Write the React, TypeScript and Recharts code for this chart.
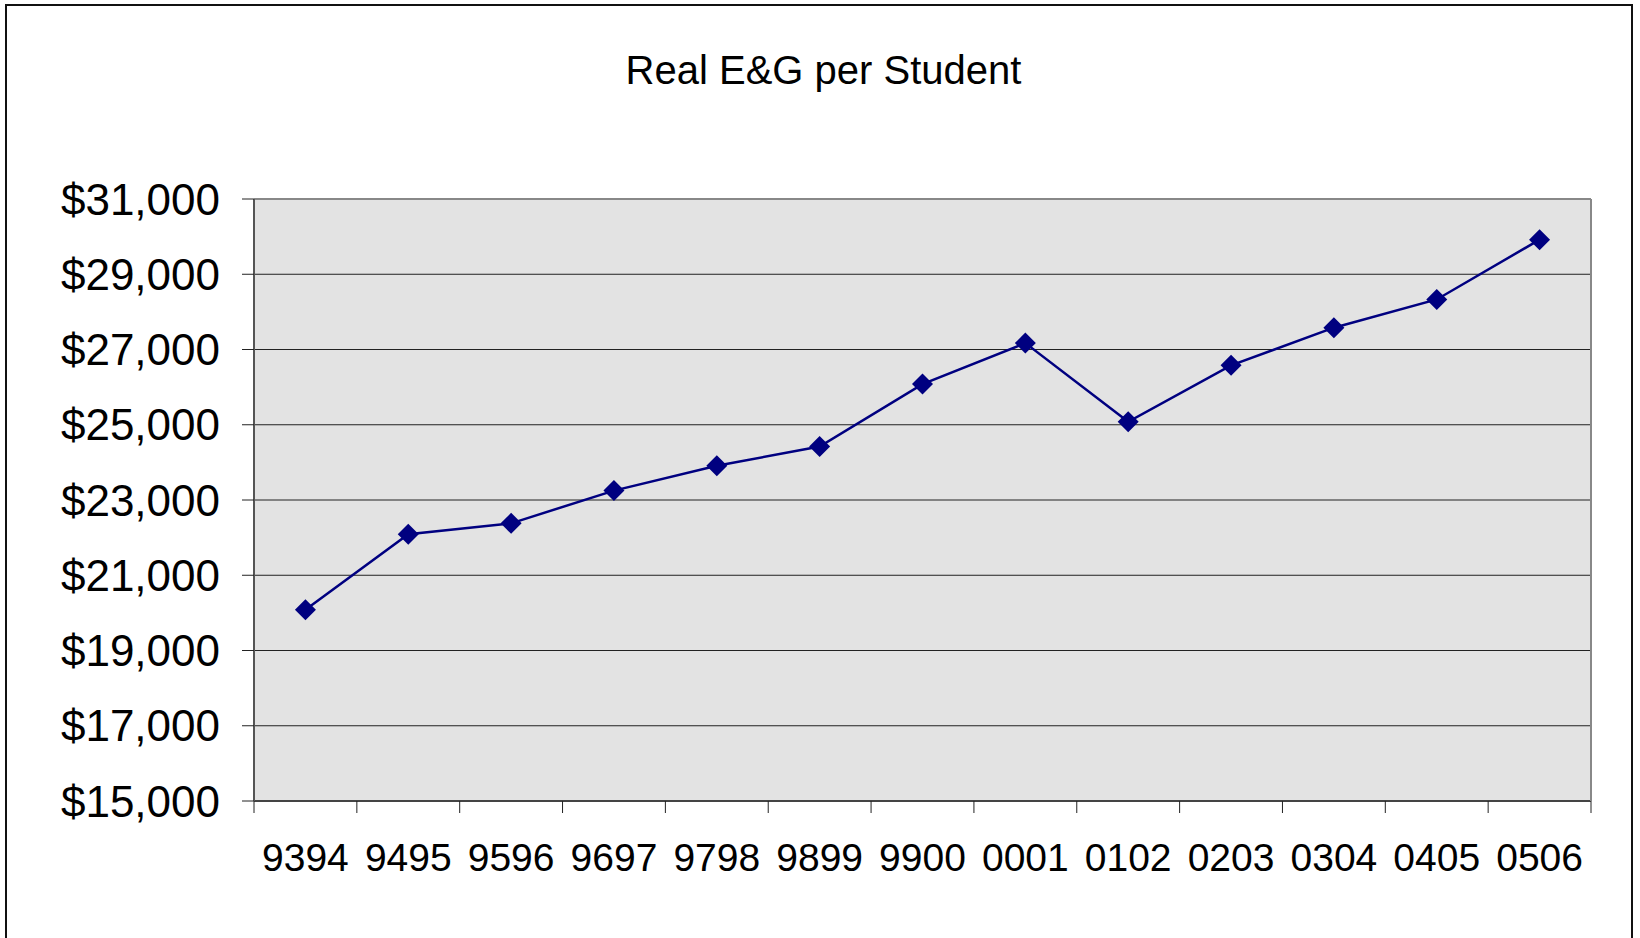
import React from 'react';
import { LineChart, Line, XAxis, YAxis, CartesianGrid } from 'recharts';

// Fiscal-year labels (e.g. 9394 = FY 1993-94)
const years = ['9394', '9495', '9596', '9697', '9798', '9899', '9900', '0001', '0102', '0203', '0304', '0405', '0506'];
// Real E&G spending per student, in dollars
const perStudent = [20080, 22090, 22380, 23250, 23910, 24420, 26080, 27170, 25080, 26580, 27580, 28330, 29920];
const yTicks = [15000, 17000, 19000, 21000, 23000, 25000, 27000, 29000, 31000];

const data = years.map((year, i) => ({ pos: i + 0.5, year, value: perStudent[i] }));
const boundaryTicks = years.map((_, i) => i).concat([years.length]);
const centerTicks = years.map((_, i) => i + 0.5);

const FONT = '"Liberation Sans", Arial, sans-serif';

const money = (v: number) => '$' + v.toLocaleString('en-US');

const Diamond = (props: any) => {
  const { cx, cy } = props;
  if (cx == null || cy == null) return null;
  const r = 10.5;
  return <path d={`M${cx},${cy - r}L${cx + r},${cy}L${cx},${cy + r}L${cx - r},${cy}Z`} fill="#000080" />;
};

export default function App() {
  return (
    <div style={{ position: 'fixed', left: 0, top: 0, width: 1640, height: 938, background: '#fff', overflow: 'hidden' }}>
      <div
        style={{
          position: 'absolute',
          left: 5,
          top: 4,
          width: 1628,
          height: 960,
          border: '2px solid #111',
          boxSizing: 'border-box',
        }}
      />
      <div
        style={{
          position: 'absolute',
          left: 0,
          width: 1647,
          top: 45,
          textAlign: 'center',
          fontFamily: FONT,
          fontSize: 40,
          color: '#000',
          lineHeight: '50px',
        }}
      >
        Real E&amp;G per Student
      </div>
      <div style={{ position: 'absolute', left: 0, top: 0 }}>
        <LineChart width={1640} height={938} data={data} margin={{ top: 198, right: 48, bottom: 0, left: 0 }}>
          <CartesianGrid
            xAxisId="bounds"
            yAxisId="main"
            vertical={false}
            stroke="#222"
            strokeWidth={1}
            fill="#E3E3E3"
          />
          <XAxis
            xAxisId="bounds"
            dataKey="pos"
            type="number"
            domain={[0, years.length]}
            ticks={boundaryTicks}
            interval={0}
            tickFormatter={() => ''}
            tickSize={12}
            height={1}
            axisLine={{ stroke: '#444', strokeWidth: 2 }}
            tickLine={{ stroke: '#222', strokeWidth: 1 }}
          />
          <XAxis
            xAxisId="labels"
            dataKey="pos"
            type="number"
            domain={[0, years.length]}
            ticks={centerTicks}
            interval={0}
            tickFormatter={(v: number) => years[Math.round(v - 0.5)]}
            tickSize={0}
            tickMargin={41}
            height={136}
            axisLine={false}
            tickLine={false}
            tick={{ fill: '#000', fontSize: 39, fontFamily: FONT }}
          />
          <XAxis
            xAxisId="top"
            orientation="top"
            dataKey="pos"
            type="number"
            domain={[0, years.length]}
            ticks={[]}
            height={1}
            axisLine={{ stroke: '#888', strokeWidth: 2 }}
            tick={false}
          />
          <YAxis
            yAxisId="main"
            domain={[15000, 31000]}
            ticks={yTicks}
            interval={0}
            width={254}
            tickSize={12}
            tickMargin={22}
            tickFormatter={money}
            axisLine={{ stroke: '#555', strokeWidth: 2 }}
            tickLine={{ stroke: '#222', strokeWidth: 1 }}
            tick={{ fill: '#000', fontSize: 44, fontFamily: FONT }}
          />
          <YAxis
            yAxisId="right"
            orientation="right"
            domain={[15000, 31000]}
            ticks={[]}
            width={1}
            axisLine={{ stroke: '#888', strokeWidth: 2 }}
            tick={false}
          />
          <Line
            xAxisId="bounds"
            yAxisId="main"
            type="linear"
            dataKey="value"
            stroke="#000080"
            strokeWidth={2.5}
            dot={<Diamond />}
            activeDot={false}
            isAnimationActive={false}
          />
        </LineChart>
      </div>
    </div>
  );
}
